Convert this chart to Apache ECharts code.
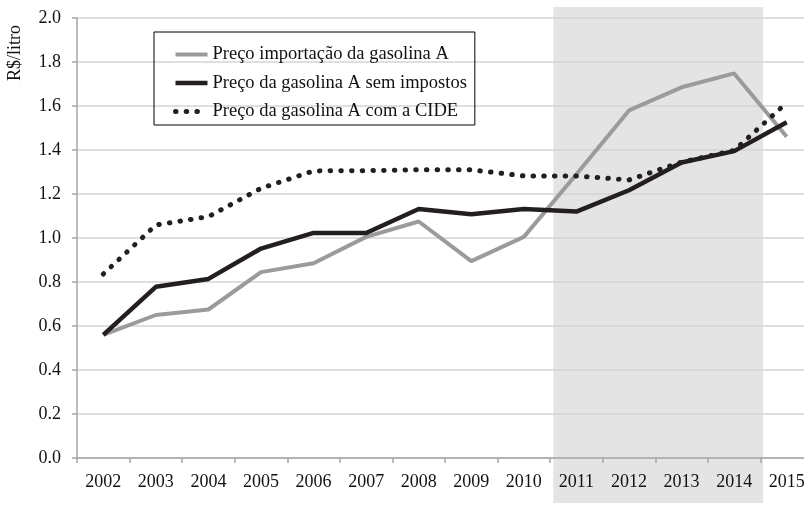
<!DOCTYPE html>
<html>
<head>
<meta charset="utf-8">
<script src="https://cdn.jsdelivr.net/npm/echarts@6/dist/echarts.min.js"></script>
<style>
html,body{margin:0;padding:0;background:#fff;}
#chart{width:804px;height:505px;}
</style>
</head>
<body>
<div id="chart"></div>
<script>
const years = ['2002','2003','2004','2005','2006','2007','2008','2009','2010','2011','2012','2013','2014','2015'];
const importPrice = [0.56, 0.65, 0.675, 0.845, 0.885, 1.005, 1.075, 0.895, 1.005, 1.29, 1.58, 1.685, 1.748, 1.46];
const priceNoTax = [0.56, 0.778, 0.814, 0.952, 1.023, 1.023, 1.132, 1.108, 1.132, 1.12, 1.217, 1.343, 1.395, 1.526];
const priceWithCide = [0.836, 1.059, 1.097, 1.226, 1.305, 1.306, 1.31, 1.31, 1.282, 1.282, 1.264, 1.345, 1.398, 1.615];
const seriesNames = ['Preço importação da gasolina A', 'Preço da gasolina A sem impostos', 'Preço da gasolina A com a CIDE'];
const yAxisTitle = 'R$/litro';
const shadeFrom = 8.56, shadeTo = 12.55; // category-index span of shaded period

const FONT = '"Liberation Serif", "Times New Roman", serif';
const GREY = '#9b9b9b', DARK = '#231f20';
const DOT = [0.5, 10.2];
const chart = echarts.init(document.getElementById('chart'), null, {renderer: 'canvas'});
const option = {
  animation: false,
  backgroundColor: '#fff',
  textStyle: {fontFamily: FONT},
  grid: {left: 77, top: 18, bottom: 47, width: 736, containLabel: false, outerBoundsMode: 'none'},
  legend: {
    orient: 'vertical', left: 154, top: 32,
    borderColor: '#000', borderWidth: 1,
    padding: [13, 8, 4, 19],
    itemGap: 9.5, itemWidth: 32, itemHeight: 14,
    itemStyle: {opacity: 0, borderWidth: 0},
    textStyle: {fontFamily: FONT, fontSize: 18.5, color: '#111', lineHeight: 18},
    data: [
      {name: seriesNames[0], itemStyle: {opacity: 0}, lineStyle: {color: GREY, width: 4}},
      {name: seriesNames[1], itemStyle: {opacity: 0}, lineStyle: {color: DARK, width: 4.5}},
      {name: seriesNames[2], itemStyle: {opacity: 0}, lineStyle: {color: DARK, width: 5, type: DOT, cap: 'round'}}
    ]
  },
  xAxis: {
    type: 'category', data: years, boundaryGap: true,
    axisLine: {lineStyle: {color: '#a6a6a6', width: 1.5}},
    axisTick: {show: true, interval: 0, length: 5, lineStyle: {color: '#a6a6a6', width: 1.5}},
    axisLabel: {fontFamily: FONT, fontSize: 18, color: '#111', margin: 15, interval: 0},
    splitLine: {show: false}
  },
  yAxis: {
    type: 'value', min: 0, max: 2, interval: 0.2,
    axisLine: {show: true, lineStyle: {color: '#a6a6a6', width: 1.5}},
    axisTick: {show: true, length: 5, lineStyle: {color: '#a6a6a6', width: 1.5}},
    axisLabel: {fontFamily: FONT, fontSize: 18, color: '#111', margin: 16, formatter: v => v.toFixed(1)},
    splitLine: {show: true, lineStyle: {color: '#d4d4d4', width: 1.5}}
  },
  series: [
    {name: seriesNames[0], type: 'line', data: importPrice, symbol: 'none', z: 3,
     lineStyle: {color: GREY, width: 4}, itemStyle: {color: GREY}},
    {name: seriesNames[1], type: 'line', data: priceNoTax, symbol: 'none', z: 4,
     lineStyle: {color: DARK, width: 4.5}, itemStyle: {color: DARK}},
    {name: seriesNames[2], type: 'line', data: priceWithCide, symbol: 'none', z: 5,
     lineStyle: {color: DARK, width: 5, type: DOT, cap: 'round'}, itemStyle: {color: DARK}}
  ],
  graphic: [{
    type: 'text', left: 6, top: 25, rotation: Math.PI / 2,
    style: {text: yAxisTitle, font: '18px ' + FONT, fill: '#111'}
  }]
};
chart.setOption(option);

// shaded period computed from the category axis scale
const c0 = chart.convertToPixel({xAxisIndex: 0}, 0);
const c1 = chart.convertToPixel({xAxisIndex: 0}, 1);
const step = c1 - c0;
const xa = c0 + shadeFrom * step, xb = c0 + shadeTo * step;
chart.setOption({
  graphic: [
    option.graphic[0],
    {type: 'rect', z: -10, silent: true,
     shape: {x: xa, y: 7, width: xb - xa, height: 496},
     style: {fill: '#e4e4e4'}}
  ]
});
</script>
</body>
</html>
